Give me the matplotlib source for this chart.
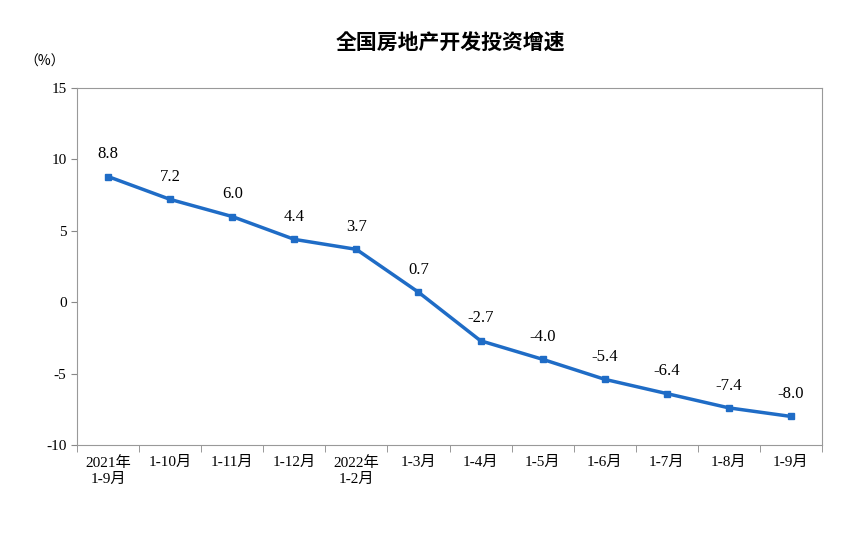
import matplotlib
matplotlib.use("Agg")
import matplotlib.pyplot as plt
from matplotlib import font_manager as fm
import numpy as np

categories = ["2021年\n1-9月", "1-10月", "1-11月", "1-12月", "2022年\n1-2月", "1-3月",
              "1-4月", "1-5月", "1-6月", "1-7月", "1-8月", "1-9月"]
values = [8.8, 7.2, 6.0, 4.4, 3.7, 0.7, -2.7, -4.0, -5.4, -6.4, -7.4, -8.0]
yticks = [-10, -5, 0, 5, 10, 15]

cjk = [f for f in fm.fontManager.ttflist if "CJK" in f.name]
cjk_name = None
for pref in ["SC", "JP", ""]:
    for f in cjk:
        if pref in f.name:
            cjk_name = f.name
            break
    if cjk_name:
        break
cjk_name = cjk_name or "DejaVu Sans"

plt.rcParams["font.family"] = ["Liberation Serif", cjk_name]
fig = plt.figure(figsize=(8.65, 5.41), dpi=100)
ax = fig.add_axes([77/865, 1-445/541, 745/865, 357/541])
x = np.arange(len(values))
ax.plot(x, values, color="#1f6cc6", lw=2.5, marker="s", ms=5)
for xi, v in zip(x, values):
    ax.text(xi, v + 1.0, f"{v:.1f}", ha="center", va="bottom", fontsize=12)
ax.set_xlim(-0.5, len(values) - 0.5)
ax.set_ylim(-10, 15)
ax.set_yticks(yticks)
ax.set_yticklabels([str(t) for t in yticks], fontsize=11)
ax.set_xticks(x)
ax.set_xticklabels(categories, fontsize=11, linespacing=1.3)
ax.set_xticks(np.arange(-0.5, len(values)), minor=True)
ax.tick_params(axis="x", which="major", length=0, pad=8)
ax.tick_params(axis="x", which="minor", length=5, color="#888888")
ax.tick_params(axis="y", length=4, color="#888888")
for s in ax.spines.values():
    s.set_color("#999999")
fig.text(45/865, 1-62/541, "（%）", fontsize=10, ha="center", va="center", family=cjk_name)
fig.text(450/865, 1-42/541, "全国房地产开发投资增速", fontsize=15, ha="center", va="center",
         family=cjk_name, weight="bold")
fig.savefig("out.png", dpi=100)
